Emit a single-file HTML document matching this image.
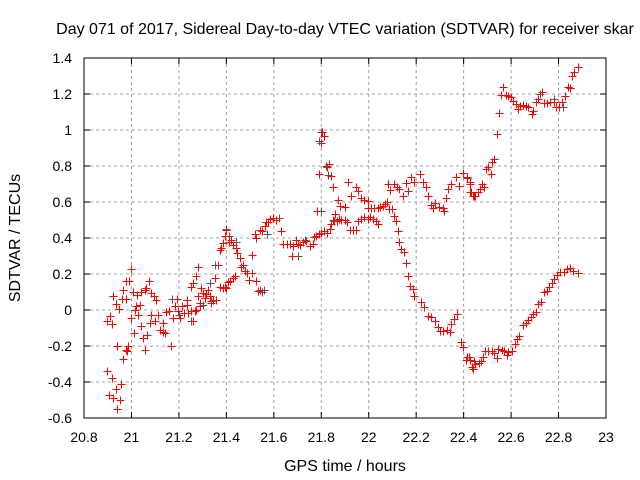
<!DOCTYPE html>
<html><head><meta charset="utf-8"><style>
body{margin:0;background:#fff}
svg{display:block}
text{font-family:"Liberation Sans",sans-serif;font-size:14px;fill:#000}
.big{font-size:16px}
</style></head><body>
<svg id="chart" width="640" height="480" xmlns="http://www.w3.org/2000/svg">
<text class="big" x="345" y="34" text-anchor="middle">Day 071 of 2017, Sidereal Day-to-day VTEC variation (SDTVAR) for receiver skar</text>
<text class="big" transform="translate(20,238) rotate(-90)" text-anchor="middle">SDTVAR / TECUs</text>
<text class="big" x="345" y="471" text-anchor="middle">GPS time / hours</text>
<g id="grid"></g>
<g id="ticks"></g>
<g id="black"></g>
<g id="red"></g>
<rect x="84" y="58" width="522" height="360" fill="none" stroke="#000" stroke-width="1"/>
</svg>
<script>
const xTicks=[20.8,21,21.2,21.4,21.6,21.8,22,22.2,22.4,22.6,22.8,23];
const xTickLabels=["20.8","21","21.2","21.4","21.6","21.8","22","22.2","22.4","22.6","22.8","23"];
const yTicks=[-0.6,-0.4,-0.2,0,0.2,0.4,0.6,0.8,1,1.2,1.4];
const yTickLabels=["-0.6","-0.4","-0.2","0","0.2","0.4","0.6","0.8","1","1.2","1.4"];
const redX=[20.897,20.909,20.92,20.923,20.933,20.948,20.941,20.965,20.962,20.976,20.979,20.989,21.0,21.0,21.007,21.01,20.979,20.986,20.982,20.965,20.897,20.916,20.906,20.923,20.933,20.958,20.951,20.94,21.014,21.021,21.035,21.024,21.028,21.042,21.049,21.056,21.066,21.042,21.056,21.063,21.074,21.084,21.094,21.105,21.084,21.077,21.098,21.112,21.119,21.131,21.14,21.131,21.147,21.158,21.168,21.176,21.183,21.19,21.197,21.204,21.215,21.22,21.232,21.239,21.249,21.26,21.267,21.274,21.288,21.281,21.288,21.295,21.302,21.313,21.323,21.33,21.337,21.344,21.351,21.274,21.281,21.26,21.25,21.232,21.358,21.365,21.372,21.379,21.386,21.4,21.393,21.411,21.42,21.43,21.44,21.445,21.456,21.463,21.47,21.48,21.486,21.496,21.506,21.51,21.524,21.533,21.54,21.526,21.52,21.54,21.552,21.562,21.569,21.576,21.582,21.596,21.61,21.629,21.639,21.656,21.667,21.681,21.695,21.678,21.709,21.409,21.414,21.426,21.436,21.372,21.386,21.393,21.4,21.336,21.309,
21.702,21.723,21.737,21.751,21.765,21.769,21.779,21.789,21.8,21.811,21.825,21.835,21.842,21.853,21.857,21.867,21.875,21.884,21.898,21.909,21.919,21.933,21.947,21.954,21.968,21.982,21.996,22.007,22.017,22.031,22.038,22.038,22.049,22.059,22.069,22.077,22.087,22.096,22.108,22.115,22.122,22.129,22.138,22.147,22.157,22.166,22.175,22.185,22.192,22.22,22.231,22.248,22.262,22.278,22.29,22.301,22.315,22.329,22.343,22.348,22.359,22.371,22.39,22.399,22.408,22.422,22.436,22.443,
21.803,21.811,21.8,21.832,21.825,21.79,21.842,21.849,21.87,21.881,21.898,21.912,21.926,21.947,21.954,21.968,21.982,21.999,21.996,22.01,22.024,21.783,22.08,22.091,22.108,22.119,22.129,22.143,22.157,22.164,22.178,22.192,22.217,22.227,22.241,22.248,22.262,22.269,22.278,22.297,22.311,22.318,22.325,22.334,22.348,22.366,22.38,22.399,22.416,22.427,22.433,22.443,
22.413,22.425,22.428,22.439,22.449,22.459,22.468,22.477,22.485,22.494,22.504,22.514,22.518,22.529,22.539,22.549,22.556,22.565,22.579,22.589,22.6,22.61,22.621,22.631,22.638,22.652,22.663,22.673,22.687,22.694,22.706,22.715,22.73,22.739,22.751,22.765,22.779,22.79,22.804,22.814,22.828,22.838,22.85,22.856,22.866,22.882,
22.413,22.428,22.439,22.449,22.463,22.472,22.48,22.49,22.504,22.518,22.529,22.539,22.546,22.561,22.57,22.582,22.589,22.603,22.617,22.624,22.635,22.649,22.663,22.673,22.683,22.694,22.706,22.715,22.725,22.739,22.751,22.758,22.772,22.779,22.793,22.807,22.821,22.835,22.85,22.861,22.882];
const redY=[-0.063,-0.035,-0.08,0.08,0.033,0.006,-0.2,0.11,0.06,0.06,0.16,0.16,0.23,-0.044,0.10,-0.13,-0.22,-0.2,-0.23,-0.27,-0.34,-0.38,-0.47,-0.49,-0.44,-0.41,-0.50,-0.55,0.0,0.02,0.03,0.085,-0.026,-0.09,-0.155,-0.22,-0.137,0.10,0.11,0.12,0.16,0.094,0.076,0.057,-0.026,-0.07,-0.063,-0.026,-0.11,-0.12,-0.13,-0.07,-0.013,-0.007,-0.2,-0.044,0.02,0.06,-0.007,-0.044,0.02,-0.017,0.03,-0.017,-0.007,-0.063,-0.007,0.0,0.02,0.076,0.04,0.12,0.094,0.09,0.11,0.076,0.04,0.057,0.18,0.19,0.24,0.15,0.13,0.057,0.057,0.25,0.335,0.345,0.37,0.445,0.41,0.38,0.39,0.36,0.345,0.317,0.29,0.24,0.25,0.215,0.205,0.165,0.205,0.307,0.16,0.104,0.113,0.4,0.42,0.445,0.437,0.465,0.487,0.49,0.506,0.51,0.5,0.437,0.367,0.367,0.367,0.355,0.39,0.3,0.36,0.154,0.16,0.178,0.187,0.13,0.12,0.13,0.12,0.052,0.067,
0.367,0.376,0.385,0.357,0.367,0.404,0.413,0.42,0.43,0.44,0.426,0.45,0.478,0.496,0.533,0.496,0.506,0.5,0.5,0.487,0.444,0.444,0.444,0.496,0.506,0.515,0.506,0.515,0.506,0.496,0.478,0.567,0.574,0.578,0.589,0.598,0.561,0.561,0.524,0.496,0.44,0.376,0.339,0.32,0.261,0.19,0.135,0.117,0.08,0.043,0.015,-0.031,-0.04,-0.06,-0.096,-0.115,-0.119,-0.11,-0.124,-0.078,-0.05,-0.022,-0.18,-0.207,-0.278,-0.263,-0.319,-0.281,
0.987,0.969,0.93,0.811,0.793,0.756,0.746,0.685,0.611,0.58,0.574,0.713,0.635,0.685,0.663,0.622,0.611,0.607,0.567,0.567,0.567,0.548,0.7,0.667,0.7,0.681,0.672,0.635,0.704,0.659,0.737,0.709,0.756,0.713,0.685,0.635,0.585,0.567,0.593,0.574,0.567,0.552,0.622,0.672,0.7,0.737,0.691,0.759,0.733,0.7,0.654,0.635,
0.737,0.709,0.654,0.635,0.631,0.654,0.672,0.7,0.681,0.783,0.793,0.756,0.82,0.839,0.978,1.094,1.196,1.237,1.194,1.187,1.181,1.163,1.144,1.117,1.135,1.139,1.131,1.126,1.089,1.107,1.154,1.172,1.213,1.15,1.15,1.154,1.157,1.126,1.126,1.154,1.191,1.237,1.231,1.298,1.324,1.348,
-0.263,-0.276,-0.328,-0.3,-0.294,-0.281,-0.263,-0.226,-0.226,-0.226,-0.239,-0.269,-0.217,-0.22,-0.226,-0.248,-0.231,-0.226,-0.189,-0.161,-0.143,-0.083,-0.072,-0.054,-0.037,-0.022,-0.013,0.033,0.043,0.098,0.107,0.126,0.15,0.172,0.194,0.209,0.213,0.228,0.231,0.219,0.206];
const blackX=[21.17,21.2,21.25,21.3,21.33,21.35,21.4,21.41,21.44,21.55,21.56,21.57,21.62,21.7,21.73,21.8,21.8,21.79,21.82,21.83,21.85,22.72,22.78,22.82];
const blackY=[0.06,-0.03,-0.06,0.03,0.15,0.25,0.45,0.41,0.38,0.10,0.11,0.42,0.51,0.30,0.39,0.55,0.99,0.94,0.80,0.75,0.5,1.2,1.17,1.13];

const NS="http://www.w3.org/2000/svg";
const X0=84,X1=606,Y0=418,Y1=58;
function sx(h){return X0+(h-20.8)/(23-20.8)*(X1-X0);}
function sy(v){return Y0-(v+0.6)/(1.4+0.6)*(Y0-Y1);}
function mk(tag,attrs,parent){const e=document.createElementNS(NS,tag);for(const k in attrs)e.setAttribute(k,attrs[k]);parent.appendChild(e);return e;}
const grid=document.getElementById('grid'),ticks=document.getElementById('ticks');
xTicks.forEach((t,i)=>{
  const x=sx(t);
  if(i>0&&i<xTicks.length-1){const l=mk('line',{x1:x,x2:x,y1:Y1,y2:Y0,stroke:'#a0a0a0','stroke-dasharray':'3,3'},grid);
  
  }
  mk('line',{x1:x,x2:x,y1:Y0,y2:Y0-6,stroke:'#000'},ticks);
  mk('line',{x1:x,x2:x,y1:Y1,y2:Y1+6,stroke:'#000'},ticks);
  const tx=mk('text',{x:x,y:Y0+24,'text-anchor':'middle'},ticks);tx.textContent=xTickLabels[i];
  
  
});
yTicks.forEach((t,i)=>{
  const y=sy(t);
  if(i>0&&i<yTicks.length-1){const l=mk('line',{x1:X0,x2:X1,y1:y,y2:y,stroke:'#a0a0a0','stroke-dasharray':'3,3'},grid);
  
  }
  mk('line',{x1:X0,x2:X0+6,y1:y,y2:y,stroke:'#000'},ticks);
  mk('line',{x1:X1,x2:X1-6,y1:y,y2:y,stroke:'#000'},ticks);
  const tx=mk('text',{x:X0-12,y:y+5,'text-anchor':'end'},ticks);tx.textContent=yTickLabels[i];
  
  
});
function plus(g,xs,ys,col){
  for(let i=0;i<xs.length;i++){
    const x=Math.round(sx(xs[i]))+0.5,y=Math.round(sy(ys[i]))+0.5;
    const p=mk('path',{d:`M${x-4},${y}H${x+4}M${x},${y-4}V${y+4}`,stroke:col,'stroke-width':1,fill:'none'},g);
    
    
  }
}
plus(document.getElementById('black'),blackX,blackY,'#555');
plus(document.getElementById('red'),redX,redY,'#ff0000');
</script>
</body></html>
